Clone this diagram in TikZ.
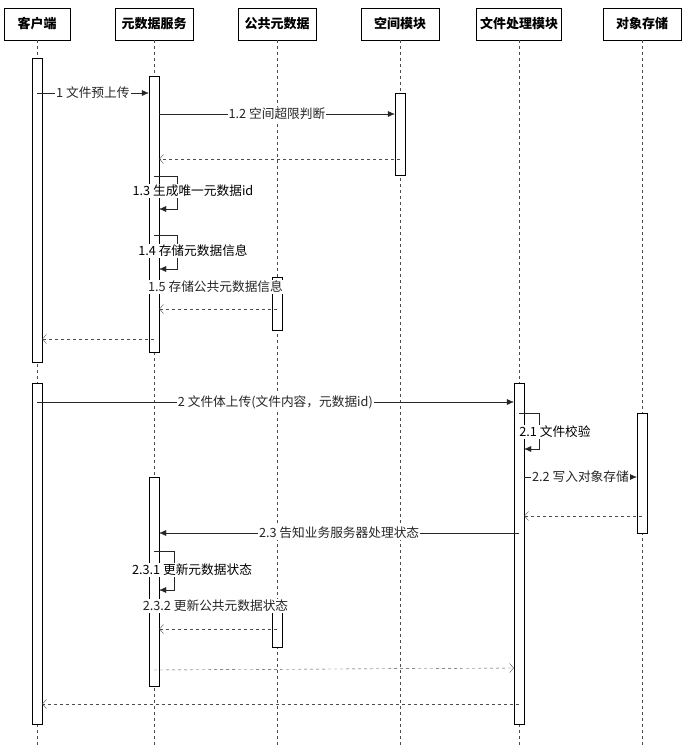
\documentclass[tikz,border=0pt]{standalone}
\usepackage{fontspec}
\setmainfont{Noto Sans CJK SC}
\usetikzlibrary{arrows.meta}

\begin{document}
\begin{tikzpicture}[x=1pt, y=-1pt, font=\fontsize{12.7}{14}\selectfont]
    % Define styles
    \tikzstyle{actor} = [draw, rectangle, fill=white, minimum width=78pt, minimum height=32pt, font=\fontsize{13}{15}\selectfont\bfseries]
    \tikzstyle{bar} = [draw, rectangle, fill=white, minimum width=10pt, inner sep=0pt]
    \tikzstyle{life} = [dashed, black!70]
    \tikzstyle{call} = [-{Latex[length=7pt,width=6pt]}, black!85]
    \tikzstyle{reply} = [-{Straight Barb[length=4pt,width=9pt]}, dashed, black!70]
    \tikzstyle{lbl} = [fill=white, inner sep=1pt]

    \useasboundingbox (0,0) rectangle (689,747);

    % Participants
    \node[actor, minimum width=66pt] (client) at (37, 24) {客户端};
    \node[actor] (meta) at (154, 24) {元数据服务};
    \node[actor] (pub) at (277, 24) {公共元数据};
    \node[actor] (space) at (400, 24) {空间模块};
    \node[actor, minimum width=84pt] (file) at (519, 24) {文件处理模块};
    \node[actor] (store) at (642, 24) {对象存储};

    % Lifelines
    \foreach \p in {client, meta, pub, space, file, store}
        \draw[life] (\p.south) -- (\p |- 0,747);

    % Activation bars
    \node[bar, minimum height=304pt] (cl1) at (37, 210) {};
    \node[bar, minimum height=341pt] (cl2) at (37, 553.5) {};
    \node[bar, minimum height=276pt] (md1) at (154, 214) {};
    \node[bar, minimum height=209pt] (md2) at (154, 581.5) {};
    \node[bar, minimum height=53pt] (pb1) at (277, 303.5) {};
    \node[bar, minimum height=47pt] (pb2) at (277, 623.5) {};
    \node[bar, minimum height=82pt] (sp1) at (400, 134) {};
    \node[bar, minimum height=341pt] (fp1) at (519, 553.5) {};
    \node[bar, minimum height=120pt] (os1) at (642, 473) {};

    % Phase 1: pre-upload
    \draw[call] (cl1 |- 0,93) -- node[lbl] {1 文件预上传} (md1.west |- 0,93);
    \draw[call] (md1.east |- 0,114) -- node[lbl] {1.2 空间超限判断} (sp1.west |- 0,114);
    \draw[reply] (sp1 |- 0,159) -- (md1.east |- 0,159);
    \draw[call] (md1 |- 0,176) -| (177,209) -- (md1.east |- 0,209);
    \node[lbl] (l13) at (193, 191) {1.3 生成唯一元数据id};
    \draw[call] (md1 |- 0,235) -| (177,269) -- (md1.east |- 0,269);
    \node[lbl] (l14) at (193, 251) {1.4 存储元数据信息};
    \draw[call] (md1.east |- 0,287) -- node[lbl] {1.5 存储公共元数据信息} (pb1.west |- 0,287);
    \draw[reply] (pb1 |- 0,309) -- (md1.east |- 0,309);
    \draw[reply] (md1 |- 0,339) -- (cl1.east |- 0,339);

    % Phase 2: file body upload
    \draw[call] (cl2 |- 0,402) -- node[lbl] {2 文件体上传(文件内容，元数据id)} (fp1.west |- 0,402);
    \draw[call] (fp1 |- 0,413) -| (539,449) -- (fp1.east |- 0,449);
    \node[lbl] (l21) at (555, 432) {2.1 文件校验};
    \draw[call] (fp1.east |- 0,477) -- node[lbl] {2.2 写入对象存储} (os1.west |- 0,477);
    \draw[reply] (os1 |- 0,516) -- (fp1.east |- 0,516);
    \draw[call] (fp1 |- 0,533) -- node[lbl] {2.3 告知业务服务器处理状态} (md2.east |- 0,533);
    \draw[call] (md2 |- 0,551) -| (174,590) -- (md2.east |- 0,590);
    \node[lbl] (l231) at (192, 570) {2.3.1 更新元数据状态};
    \draw[call] (md2.east |- 0,606) -- node[lbl] {2.3.2 更新公共元数据状态} (pb2.west |- 0,606);
    \draw[reply] (pb2 |- 0,629) -- (md2.east |- 0,629);
    \draw[reply] (md2 |- 0,670) -- (fp1.west |- 0,668);
    \draw[reply] (fp1 |- 0,704) -- (cl2.east |- 0,704);
\end{tikzpicture}
\end{document}
